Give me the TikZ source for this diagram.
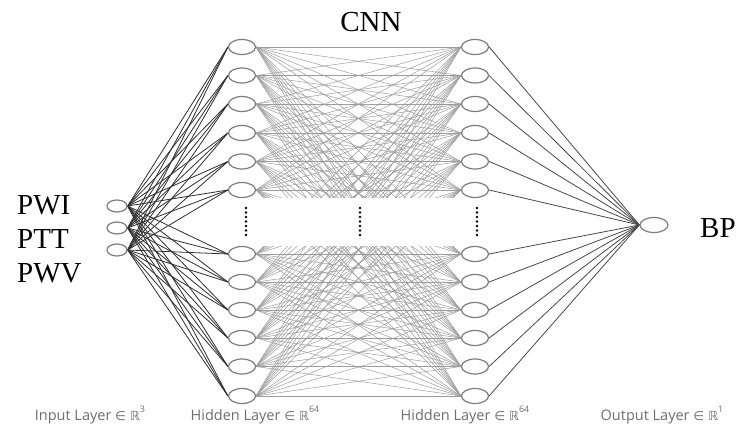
\documentclass[tikz,border=0pt]{standalone}
\usepackage{fontspec}
\setmainfont{Liberation Serif}
\newfontfamily\layerfont{Open Sans}
\newfontfamily\symfont{DejaVu Sans}
\usetikzlibrary{shapes.geometric}
\pgfdeclarelayer{background}
\pgfsetlayers{background,main}
\definecolor{ringgray}{HTML}{7C7C7C}
\definecolor{inedge}{HTML}{2E2E2E}
\definecolor{midedge}{HTML}{9C9C9C}
\definecolor{outedge}{HTML}{484848}
\definecolor{captiongray}{HTML}{6E6E6E}
\newcommand{\layercap}[2]{{\layerfont #1 }{\symfont\fontsize{12.5}{13}\selectfont ∈ ℝ}\raisebox{1ex}{\fontsize{9}{10}\selectfont\layerfont #2}}
\begin{document}
\begin{tikzpicture}[x=1pt,y=-1pt,
  neuron/.style={ellipse, draw=ringgray, line width=1.2pt, fill=white, inner sep=0pt},
  inneuron/.style={neuron, minimum width=20pt, minimum height=12pt},
  hidneuron/.style={neuron, minimum width=27pt, minimum height=15pt},
  outneuron/.style={neuron, minimum width=28pt, minimum height=15pt},
  bigtext/.style={font=\fontsize{29}{31}\selectfont, inner sep=0pt},
  caption/.style={font=\layerfont\fontsize{14.5}{16}\selectfont, text=captiongray, inner sep=0pt, anchor=base},
  gapdot/.style={circle, fill=black, inner sep=0pt, minimum size=2.6pt}]
\useasboundingbox (0,0) rectangle (739,425);

% neurons
\foreach \i/\y in {1/206,2/228,3/250}
  \node[inneuron] (in\i) at (117,\y) {};
\foreach \j/\y in {1/47,2/75.5,3/104,4/133,5/161.5,6/190,7/254,8/282,9/310,10/338,11/366.5,12/396}{
  \node[hidneuron] (a\j) at (242,\y) {};
  \node[hidneuron] (b\j) at (475,\y) {};
}
\node[outneuron] (out) at (654,225) {};

% connections
\begin{pgfonlayer}{background}
  \foreach \i in {1,2,3}
    \foreach \j in {1,...,12}
      \draw[inedge, line width=0.8pt] (in\i.east) -- (a\j.west);
  \foreach \j in {1,...,12}
    \foreach \k in {1,...,12}
      \draw[midedge, line width=0.5pt] (a\j.east) -- (b\k.west);
  \foreach \k in {1,...,12}
    \draw[outedge, line width=0.8pt] (b\k.east) -- (out.west);
  % blank band between the two neuron groups
  \fill[white] (252,198) rectangle (465,246);
\end{pgfonlayer}

% ellipsis dots
\foreach \x/\c in {246/l,360/m,477/r}
  \foreach \n in {0,...,6}
    \node[gapdot] (dot\c\n) at (\x,208+4.5*\n) {};

% labels
\node[bigtext, anchor=base west] (pwi) at (17,214) {PWI};
\node[bigtext, anchor=base west] (ptt) at (17,248) {PTT};
\node[bigtext, anchor=base west] (pwv) at (17,282) {PWV};
\node[bigtext, anchor=base] (cnn) at (371,32) {CNN};
\node[bigtext, anchor=base west] (bp) at (700,237) {BP};

\node[caption] (capin) at (90,420) {\layercap{Input Layer}{3}};
\node[caption] (caphA) at (255,420) {\layercap{Hidden Layer}{64}};
\node[caption] (caphB) at (465,420) {\layercap{Hidden Layer}{64}};
\node[caption] (capout) at (662,420) {\layercap{Output Layer}{1}};
\end{tikzpicture}
\end{document}
